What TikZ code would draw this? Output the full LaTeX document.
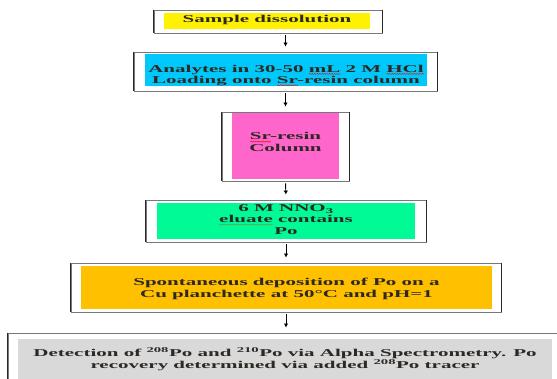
\documentclass[tikz,border=0pt]{standalone}
\usepackage{fontspec}
\setmainfont{Liberation Serif}[FakeStretch=2.0]
\usetikzlibrary{arrows.meta,decorations.pathmorphing}
\definecolor{cyanbox}{RGB}{0,200,250}
\definecolor{pinkbox}{RGB}{255,102,204}
\definecolor{greenbox}{RGB}{0,250,150}
\definecolor{orangebox}{RGB}{255,192,0}
\definecolor{graybox}{RGB}{217,217,217}
\definecolor{framecol}{RGB}{120,120,120}
\definecolor{sidecol}{RGB}{40,40,40}
\definecolor{textcol}{RGB}{45,40,35}
\definecolor{wavegreen}{RGB}{120,140,60}
\newlength\wvlen
\newcommand\wavy[2]{\settowidth\wvlen{#2}\leavevmode\rlap{\tikz[baseline=0pt]\draw[#1,line width=0.4pt,decorate,decoration={snake,amplitude=0.5pt,segment length=2.5pt}] (0pt,-1.8pt) -- (\wvlen,-1.8pt);}#2}
\begin{document}
\begin{tikzpicture}[x=1pt,y=-1pt,
  frame/.style={draw=framecol,line width=0.9pt,fill=white,inner sep=0pt},
  side/.style={draw=sidecol,line width=1.1pt},
  colbox/.style={draw=none,inner sep=0pt},
  txt/.style={inner sep=0pt,align=center,text=textcol,
    font=\fontsize{10.5}{11.5}\selectfont\bfseries},
  arr/.style={-{Latex[length=4pt,width=4.5pt]},line width=0.9pt,black,
    shorten <=2pt,shorten >=5pt}]
\useasboundingbox (0,0) rectangle (557,379);
\clip (0,0) rectangle (557,379);
\fill[white] (0,0) rectangle (557,379);
% step 1
\node[frame,minimum width=228pt,minimum height=23pt] (f1) at (268,21.5) {};
\node[colbox,fill=yellow,minimum width=206pt,minimum height=16pt] (b1) at (267,21) {};
\node[txt] (t1) at (267,20) {Sample dissolution};
% step 2
\node[frame,minimum width=303pt,minimum height=39pt] (f2) at (285.5,71.5) {};
\node[colbox,fill=cyanbox,minimum width=282pt,minimum height=32pt] (b2) at (286,70) {};
\node[txt] (t2) at (286,75.5) {Analytes in 30-50 \wavy{red}{mL} 2 M \wavy{red}{HCl}\\Loading onto \wavy{red}{Sr}-resin column};
% step 3
\node[frame,minimum width=127pt,minimum height=69pt] (f3) at (285.5,146.5) {};
\node[colbox,fill=pinkbox,minimum width=107pt,minimum height=66pt] (b3) at (285.5,146) {};
\node[txt] (t3) at (285.5,142) {\wavy{red}{Sr}-resin\\Column};
% step 4
\node[frame,minimum width=280pt,minimum height=42pt] (f4) at (286,221) {};
\node[colbox,fill=greenbox,minimum width=258pt,minimum height=36pt] (b4) at (286,221) {};
\node[txt] (t4) at (286,219.5) {6 M NNO\textsubscript{3}\\\wavy{wavegreen}{eluate} contains\\Po};
% step 5
\node[frame,minimum width=430pt,minimum height=49pt] (f5) at (286,287.5) {};
\node[colbox,fill=orangebox,minimum width=411pt,minimum height=43pt] (b5) at (286.5,287.5) {};
\node[txt] (t5) at (286.5,289) {Spontaneous deposition of Po on a\\Cu planchette at 50\textdegree C and pH=1};
% step 6
\node[frame,minimum width=562pt,minimum height=67pt] (f6) at (289,366.5) {};
\node[colbox,fill=graybox,minimum width=534pt,minimum height=61pt] (b6) at (285,369.5) {};
\node[txt] (t6) at (285,359) {Detection of \textsuperscript{208}Po and \textsuperscript{210}Po via Alpha Spectrometry. Po\\recovery determined via added \textsuperscript{208}Po tracer};
% darker side edges of the frames
\foreach \f in {f1,f2,f3,f4,f5}{
  \draw[side] (\f.north west) -- (\f.south west);
  \draw[side] (\f.north east) -- (\f.south east);
}
\draw[side] (f6.north west) -- (f6.south west);
% arrows
\draw[arr] (f1.south -| f2.north) -- (f2.north);
\draw[arr] (f2.south) -- (f3.north);
\draw[arr] (f3.south) -- (f4.north);
\draw[arr] (f4.south) -- (f5.north);
\draw[arr] (f5.south) -- (f5.south |- f6.north);
\end{tikzpicture}
\end{document}
